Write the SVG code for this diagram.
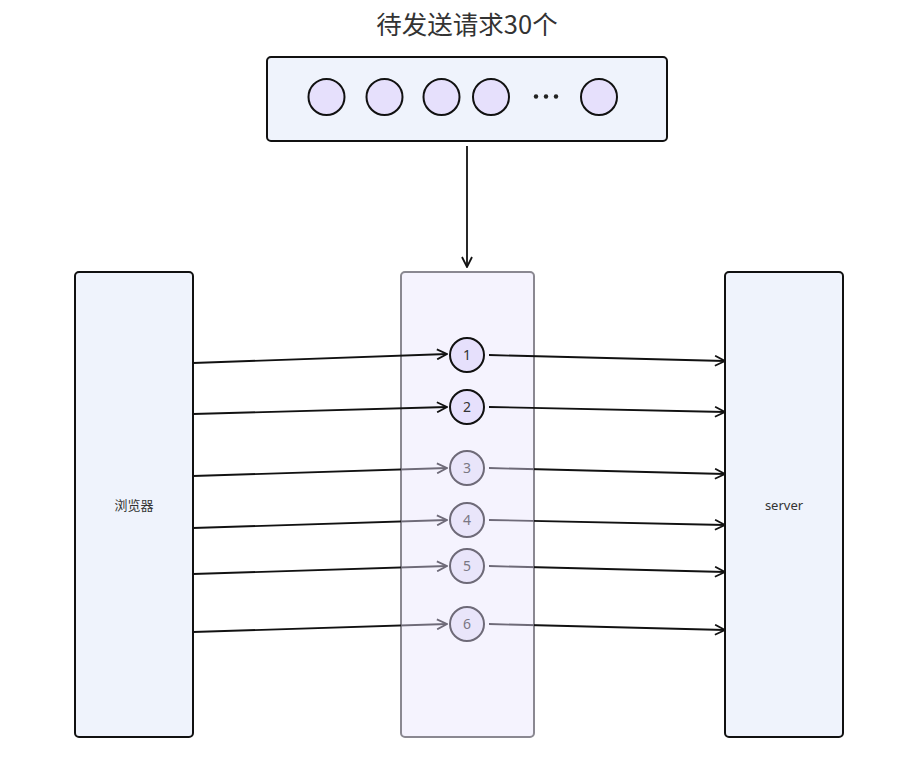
<svg xmlns="http://www.w3.org/2000/svg" width="909" height="778" viewBox="0 0 909 778">
<style>
.box{fill:#eff3fc;stroke:#111;stroke-width:2}
.q{fill:#e6e0fc;stroke:#111;stroke-width:2}
.qg{fill:#e9e5fa;stroke:#6e6a78;stroke-width:2}
.lbl{font-family:"Noto Sans","Noto Sans CJK SC",sans-serif;font-size:13px;fill:#333;text-anchor:middle}
.num{font-family:"Noto Sans",sans-serif;font-size:14px;fill:#333;text-anchor:middle}
.numg{font-family:"Noto Sans",sans-serif;font-size:14px;fill:#7a7784;text-anchor:middle}
.c{fill:none;stroke:#111;stroke-width:1.8}
.cg{fill:none;stroke:url(#fade);stroke-width:1.8}
</style>
<defs>
<marker id="ah" viewBox="0 0 12 12" refX="11" refY="6" markerWidth="12" markerHeight="12" markerUnits="userSpaceOnUse" orient="auto">
<path d="M1,1 L11,6 L1,11" fill="none" stroke="#111" stroke-width="1.8"/>
</marker>
<marker id="ahg" viewBox="0 0 12 12" refX="11" refY="6" markerWidth="12" markerHeight="12" markerUnits="userSpaceOnUse" orient="auto">
<path d="M1,1 L11,6 L1,11" fill="none" stroke="#6e6a78" stroke-width="1.8"/>
</marker>
<linearGradient id="fade" gradientUnits="userSpaceOnUse" x1="0" y1="0" x2="909" y2="0">
<stop offset="0.441" stop-color="#111"/>
<stop offset="0.441" stop-color="#6e6a78"/>
<stop offset="0.587" stop-color="#6e6a78"/>
<stop offset="0.587" stop-color="#111"/>
</linearGradient>
</defs>
<rect width="909" height="778" fill="#fff"/>
<text x="467" y="34" font-family="Noto Sans CJK SC,sans-serif" font-size="25.5" fill="#333" text-anchor="middle">待发送请求30个</text>
<g id="queue">
<rect x="267" y="57" width="400" height="84" rx="4" class="box"/>
<circle cx="326.5" cy="97" r="18" class="q"/>
<circle cx="384.5" cy="97" r="18" class="q"/>
<circle cx="441.5" cy="97" r="18" class="q"/>
<circle cx="491" cy="97" r="18" class="q"/>
<circle cx="536" cy="96.5" r="2.2" fill="#222"/>
<circle cx="546" cy="96.5" r="2.2" fill="#222"/>
<circle cx="556" cy="96.5" r="2.2" fill="#222"/>
<circle cx="599" cy="97" r="18" class="q"/>
</g>
<g id="browser">
<rect x="75" y="272" width="118" height="465" rx="4" class="box"/>
<text x="134" y="510" class="lbl">浏览器</text>
</g>
<g id="server">
<rect x="725" y="272" width="118" height="465" rx="4" class="box"/>
<text x="784" y="510" class="lbl">server</text>
</g>
<g id="pool">
<rect x="401" y="272" width="133" height="465" rx="4" fill="#f5f3fe" stroke="#8a8891" stroke-width="2"/>
</g>
<g id="connectors">
<line x1="467" y1="146" x2="467" y2="267" class="c" marker-end="url(#ah)"/>
<line x1="193" y1="363" x2="447" y2="354" class="c" marker-end="url(#ah)"/>
<line x1="193" y1="414" x2="447" y2="407" class="c" marker-end="url(#ah)"/>
<line x1="193" y1="476" x2="447" y2="468" class="cg" marker-end="url(#ahg)"/>
<line x1="193" y1="528" x2="447" y2="520" class="cg" marker-end="url(#ahg)"/>
<line x1="193" y1="574" x2="447" y2="566" class="cg" marker-end="url(#ahg)"/>
<line x1="193" y1="632" x2="447" y2="624" class="cg" marker-end="url(#ahg)"/>
<line x1="489" y1="355" x2="725" y2="361" class="c" marker-end="url(#ah)"/>
<line x1="489" y1="407" x2="725" y2="412" class="c" marker-end="url(#ah)"/>
<line x1="489" y1="468" x2="725" y2="474" class="cg" marker-end="url(#ah)"/>
<line x1="489" y1="520" x2="725" y2="525" class="cg" marker-end="url(#ah)"/>
<line x1="489" y1="566" x2="725" y2="572" class="cg" marker-end="url(#ah)"/>
<line x1="489" y1="624" x2="725" y2="630" class="cg" marker-end="url(#ah)"/>
</g>
<g id="r1"><circle cx="467" cy="355" r="17" class="q"/><text x="467" y="360" class="num">1</text></g>
<g id="r2"><circle cx="467" cy="407" r="17" class="q"/><text x="467" y="412" class="num">2</text></g>
<g id="r3"><circle cx="467" cy="468" r="17" class="qg"/><text x="467" y="473" class="numg">3</text></g>
<g id="r4"><circle cx="467" cy="520" r="17" class="qg"/><text x="467" y="525" class="numg">4</text></g>
<g id="r5"><circle cx="467" cy="566" r="17" class="qg"/><text x="467" y="571" class="numg">5</text></g>
<g id="r6"><circle cx="467" cy="624" r="17" class="qg"/><text x="467" y="629" class="numg">6</text></g>
</svg>
